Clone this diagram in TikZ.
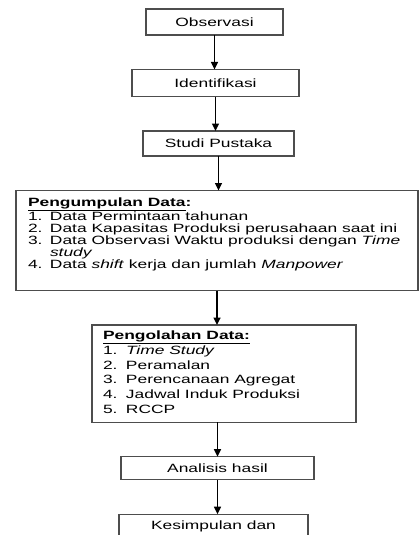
\documentclass[tikz,border=0pt]{standalone}
\usepackage{fontspec}
\setmainfont{Liberation Sans}[FakeStretch=1.45]
\usetikzlibrary{positioning}
\usetikzlibrary{arrows.meta}
\definecolor{boxline}{HTML}{4D4D4D}
\tikzset{
    mynode/.style = {rectangle, draw=boxline, line width=1.1pt, outer sep=0pt, align=center, fill=white, inner sep=2pt, text=black},
    mylist/.style = {rectangle, draw=boxline, line width=1.1pt, outer sep=0pt, fill=white, inner xsep=12pt, text=black},
    edgen/.style = {-{Triangle[length=7.5pt,width=7pt]}, line width=1.6pt, black},
}

\begin{document}
\begin{tikzpicture}[x=1pt, y=1pt, node distance=34.5pt, font=\fontsize{12}{14}\selectfont]
  \useasboundingbox (0,0) rectangle (419,-535);
  \clip (0,0) rectangle (419,-535);
  \node[mynode, minimum width=137pt, minimum height=26pt] (obs) at (214.5,-22) {Observasi};
  \node[mynode, minimum width=167pt, minimum height=27pt, below=of obs, xshift=1pt] (idn) {Identifikasi};
  \node[mynode, minimum width=151pt, minimum height=25pt, below=of idn, xshift=3pt] (stp) {Studi Pustaka};
  \node[mylist, minimum width=402pt, inner ysep=7.1pt, below=of stp, xshift=-1.5pt, font=\fontsize{12}{11.7}\selectfont] (pkd) {%
    \begin{tabular}{@{}p{22pt}@{}p{356pt}@{}}
      \multicolumn{2}{@{}l@{}}{\textbf{\underline{Pengumpulan Data}:}}\\[1.5pt]
      1. & Data Permintaan tahunan\\
      2. & Data Kapasitas Produksi perusahaan saat ini\\
      3. & Data Observasi Waktu produksi dengan \textit{Time}\\
         & \textit{study}\\
      4. & Data \textit{shift} kerja dan jumlah \textit{Manpower}\rule[-14.6pt]{0pt}{0pt}
    \end{tabular}};
  \node[mylist, minimum width=264pt, inner xsep=11pt, inner ysep=4.1pt, below=of pkd, xshift=7pt, font=\fontsize{12}{14.8}\selectfont] (pod) {%
    \begin{tabular}{@{}p{23pt}@{}p{219pt}@{}}
      \multicolumn{2}{@{}l@{}}{\textbf{\underline{Pengolahan Data:}}}\\
      1. & \textit{Time Study}\\
      2. & Peramalan\\
      3. & Perencanaan Agregat\\
      4. & Jadwal Induk Produksi\\
      5. & RCCP
    \end{tabular}};
  \node[mynode, minimum width=193pt, minimum height=23pt, below=of pod, xshift=-6.5pt] (ahs) {Analisis hasil};
  \node[mynode, minimum width=189pt, inner ysep=6.6pt, text height=8.7pt, text depth=25pt, below=of ahs, xshift=-4pt] (ksp) {Kesimpulan dan};
  % arrows
  \draw[edgen] (obs.south) -- (obs.south |- idn.north);
  \draw[edgen] (idn.south) -- (idn.south |- stp.north);
  \draw[edgen] (stp.south) -- (stp.south |- pkd.north);
  \draw[edgen] (pkd.south) -- (pkd.south |- pod.north);
  \draw[edgen] (ahs.north |- pod.south) -- (ahs.north);
  \draw[edgen] (ahs.south) -- (ahs.south |- ksp.north);
\end{tikzpicture}
\end{document}
